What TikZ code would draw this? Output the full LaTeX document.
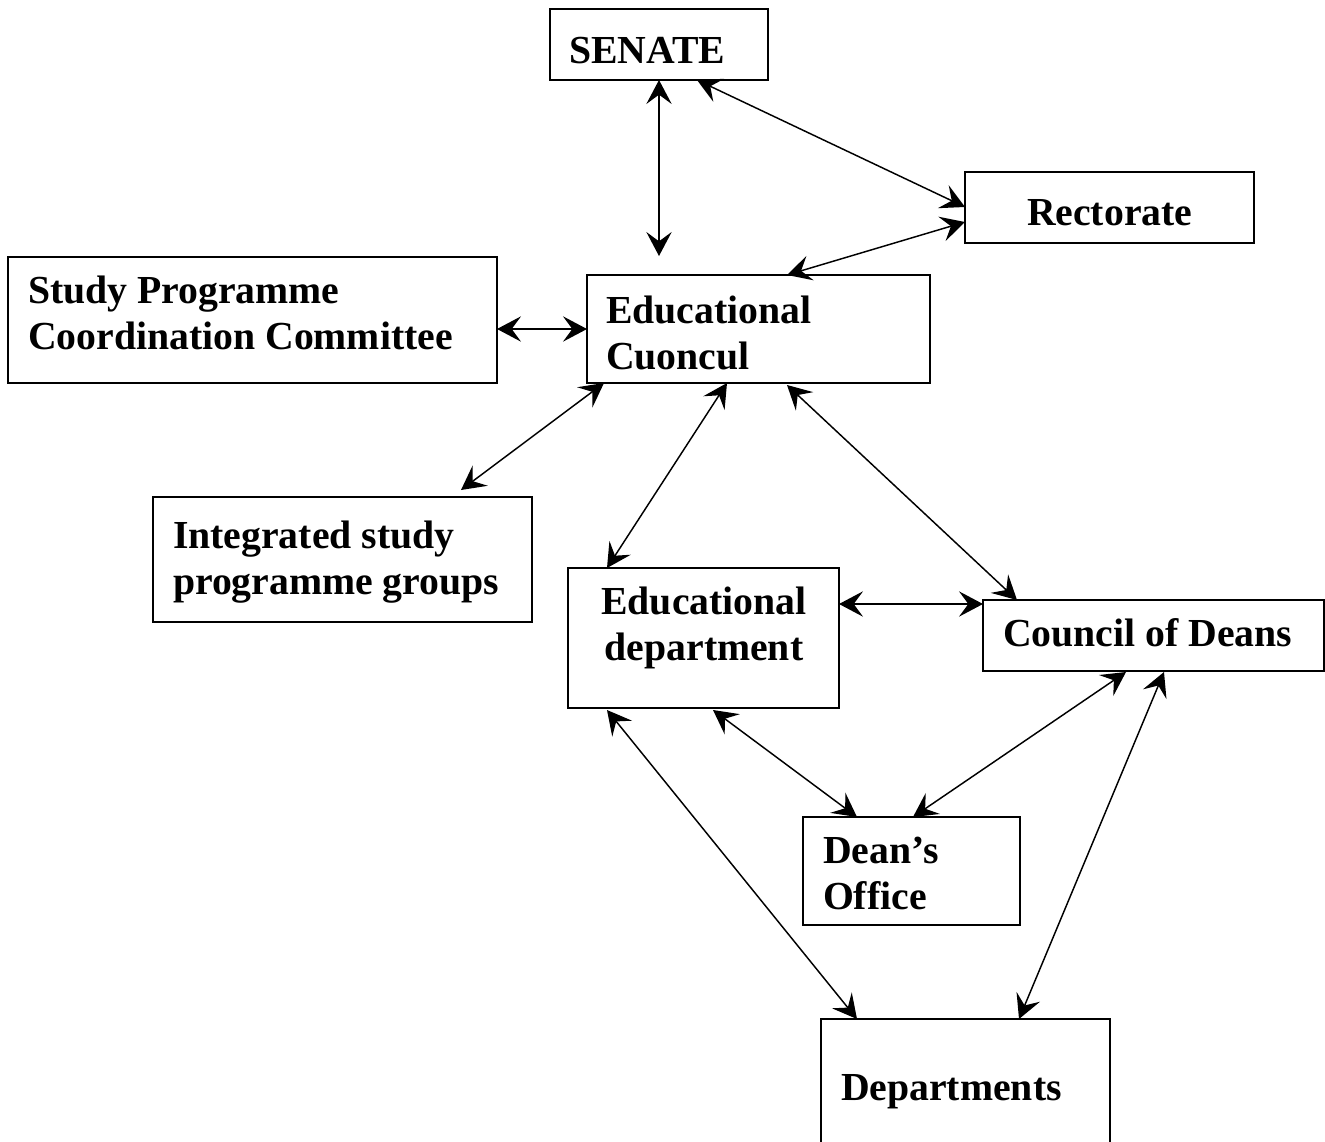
\documentclass[tikz,border=0pt]{standalone}
\usepackage{fontspec}
\setmainfont{Liberation Serif}
\usetikzlibrary{arrows.meta,calc}
\newcommand\mlines[2][l]{\begin{tabular}[t]{@{}#1@{}}#2\end{tabular}}
\begin{document}
\begin{tikzpicture}[x=0.75pt,y=-0.75pt,
  box/.style 2 args={draw, line width=1.2pt, inner sep=0pt, outer sep=0pt, anchor=north west,
    minimum width=#1*0.75pt, minimum height=#2*0.75pt},
  txt/.style={inner sep=0pt, outer sep=0pt, anchor=base west,
    font=\fontsize{29.8}{35}\selectfont\bfseries},
  link/.style={line width=1.1pt, {Stealth[length=18pt,width=19pt,inset=7pt]}-{Stealth[length=18pt,width=19pt,inset=7pt]}}]
\useasboundingbox (0,0) rectangle (1325,1142);
% boxes
\node[box={218}{71}]  (senate) at (550,9) {};
\node[box={289}{71}]  (rect)   at (965,172) {};
\node[box={489}{126}] (spcc)   at (8,257) {};
\node[box={343}{108}] (ec)     at (587,275) {};
\node[box={379}{125}] (isp)    at (153,497) {};
\node[box={271}{140}] (ed)     at (568,568) {};
\node[box={341}{71}]  (cod)    at (983,600) {};
\node[box={217}{108}] (do)     at (803,817) {};
\node[box={289}{140}] (dep)    at (821,1019) {};
% texts
\node[txt] (senateT) at (569,63) {SENATE};
\node[txt] (rectT)   at (1027,225) {Rectorate};
\node[txt] (spccT)   at (28,303) {\mlines{Study Programme\\Coordination Committee}};
\node[txt] (ecT)     at (606,323) {\mlines{Educational\\Cuoncul}};
\node[txt] (ispT)    at (173,548) {\mlines{Integrated study\\programme groups}};
\node[txt,anchor=base] (edT) at (704,614) {\mlines[c]{Educational\\department}};
\node[txt] (codT)    at (1003,646) {Council of Deans};
\node[txt] (doT)     at (823,863) {\mlines{Dean’s\\Office}};
\node[txt] (depT)    at (841,1100) {Departments};
% connectors
\draw[link] ($(senate.south west)+(109,0)$) -- ($(ec.north west)+(72,-19)$);
\draw[link] ($(senate.south west)+(147,0)$) -- ($(rect.north west)+(0,35)$);
\draw[link] ($(rect.north west)+(0,50)$) -- ($(ec.north west)+(200,0)$);
\draw[link] ($(spcc.north east)+(0,72)$) -- ($(ec.north west)+(0,54)$);
\draw[link] ($(ec.south west)+(17,0)$) -- ($(isp.north west)+(308,-7)$);
\draw[link] ($(ec.south west)+(140,0)$) -- ($(ed.north west)+(39,0)$);
\draw[link] ($(ec.south west)+(200,2)$) -- ($(cod.north west)+(34,0)$);
\draw[link] ($(ed.north east)+(0,36)$) -- ($(cod.north west)+(0,4)$);
\draw[link] ($(ed.south west)+(145,2)$) -- ($(do.north west)+(54,0)$);
\draw[link] ($(cod.south west)+(143,1)$) -- ($(do.north west)+(110,0)$);
\draw[link] ($(cod.south west)+(181,1)$) -- ($(dep.north west)+(198,0)$);
\draw[link] ($(ed.south west)+(39,2)$) -- ($(dep.north west)+(36,0)$);
\end{tikzpicture}
\end{document}
